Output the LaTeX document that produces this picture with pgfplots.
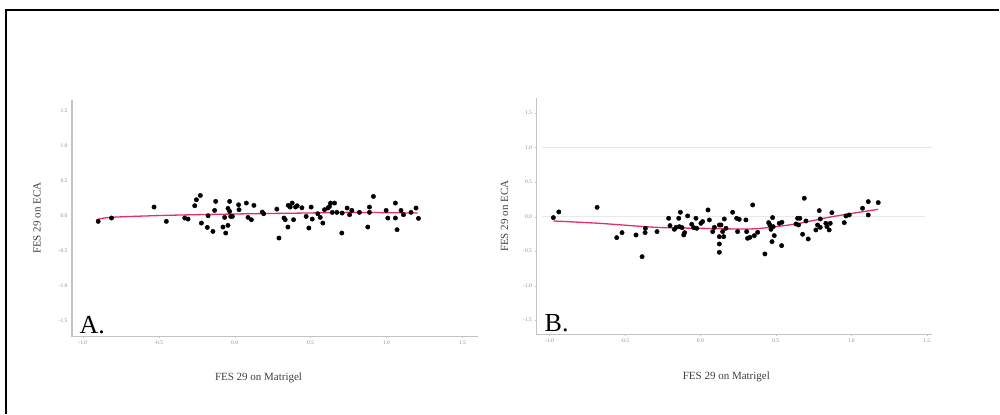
\documentclass[border=0pt]{standalone}
\usepackage{fontspec}
\setmainfont{Liberation Serif}
\usepackage{pgfplots}
\pgfplotsset{compat=1.18}
\definecolor{fitred}{RGB}{232,45,100}
\definecolor{axgray}{RGB}{195,195,195}
\definecolor{tickgray}{RGB}{140,140,140}
\definecolor{gridgray}{RGB}{232,232,232}
\pgfplotsset{panel/.style={
  scale only axis, axis lines=left, axis line style={axgray, line width=1.2pt, -},
  ytick={-1.5,-1,...,1.5},
  xtick={-1,-0.5,...,1.5},
  tick style={axgray}, major tick length=2pt,
  tick label style={font=\fontsize{5.5}{6}\selectfont, text=tickgray},
  /pgf/number format/.cd, fixed, fixed zerofill, precision=1, assume math mode=true, /pgfplots/.cd,
  label style={font=\fontsize{11}{13}\selectfont, text=black!75},
  xlabel={FES 29 on Matrigel}, ylabel={FES 29 on ECA},
  clip=false,
}}
\begin{document}
\begin{tikzpicture}
\path (0pt,0pt) rectangle (1000pt,414pt);
\draw[line width=2pt] (6pt,0pt) -- (6pt,404pt) -- (1000pt,404pt);
% Panel A
\begin{axis}[panel, at={(72pt,77pt)}, anchor=south west, width=406pt, height=237pt,
  xmin=-1.072, xmax=1.6, ymin=-1.73, ymax=1.657,
  xlabel style={at={(axis description cs:0.46,-0.173)}, anchor=center},
  ylabel style={at={(axis description cs:-0.086,0.5)}, anchor=center}]
\addplot[only marks, mark=*, mark size=2.2pt, black] coordinates {
(-0.899,-0.081) (-0.811,-0.033) (-0.531,0.124) (-0.450,-0.081) (-0.329,-0.033)
(-0.307,-0.048) (-0.263,0.143) (-0.252,0.229) (-0.226,0.290) (-0.219,-0.105)
(-0.180,-0.167) (-0.175,0.0) (-0.143,-0.224) (-0.125,0.205) (-0.132,0.076)
(-0.077,-0.162) (-0.066,-0.024) (-0.059,-0.248) (-0.044,0.105) (-0.044,-0.138)
(-0.033,0.205) (-0.033,0.062) (-0.026,-0.010) (-0.015,-0.010) (0.026,0.157)
(0.029,0.086) (0.077,0.181) (0.088,-0.024) (0.110,-0.057) (0.127,0.148)
(0.182,0.052) (0.191,0.029) (0.278,0.095) (0.292,-0.319) (0.325,-0.033)
(0.333,-0.057) (0.351,-0.162) (0.353,0.148) (0.366,0.124) (0.379,0.181)
(0.388,-0.057) (0.401,0.124) (0.412,0.143) (0.443,0.114) (0.471,-0.010)
(0.489,-0.176) (0.504,0.124) (0.511,-0.048) (0.548,0.029) (0.564,-0.024)
(0.581,-0.105) (0.592,0.086) (0.614,0.110) (0.625,0.133) (0.632,0.181)
(0.643,0.048) (0.658,0.181) (0.673,0.048) (0.706,-0.248) (0.708,0.038)
(0.741,0.110) (0.757,0.014) (0.772,0.076) (0.822,0.048) (0.877,-0.162)
(0.888,0.124) (0.888,0.048) (0.914,0.276) (0.998,0.076) (1.009,-0.033)
(1.059,0.181) (1.059,-0.033) (1.070,-0.200) (1.096,0.076) (1.112,0.014)
(1.162,0.048) (1.195,0.110) (1.211,-0.038)
};
\addplot[fitred, line width=1.3pt, smooth] coordinates {
(-0.910,-0.057) (-0.822,-0.024) (-0.537,0.0) (-0.274,0.014) (0.121,0.029)
(0.450,0.038) (0.778,0.048) (1.206,0.038)
};
\node[anchor=base west, font=\fontsize{26}{26}\selectfont] at (axis description cs:0.01,0.012) {A.};
\end{axis}
% Panel B
\begin{axis}[panel, at={(537pt,79pt)}, anchor=south west, width=396pt, height=237pt,
  xmin=-1.086, xmax=1.536, ymin=-1.71, ymax=1.72,
  xlabel style={at={(axis description cs:0.48,-0.18)}, anchor=center},
  ylabel style={at={(axis description cs:-0.081,0.5)}, anchor=center}]
\draw[gridgray, line width=1.3pt] (axis cs:-1.05,1) -- (axis cs:1.536,1);
\draw[gridgray, line width=1.3pt] (axis cs:-1.05,0) -- (axis cs:1.49,0);
\addplot[only marks, mark=*, mark size=2.2pt, black] coordinates {
(-0.974,-0.014) (-0.938,0.068) (-0.684,0.135) (-0.554,-0.304) (-0.519,-0.232)
(-0.426,-0.266) (-0.386,-0.580) (-0.366,-0.232) (-0.364,-0.169) (-0.287,-0.217)
(-0.210,-0.024) (-0.201,-0.130) (-0.172,-0.184) (-0.161,-0.155) (-0.143,-0.024)
(-0.139,-0.145) (-0.132,0.063) (-0.121,-0.159) (-0.110,-0.266) (-0.104,-0.232)
(-0.084,0.010) (-0.057,-0.111) (-0.044,-0.159) (-0.029,-0.024) (-0.024,-0.169)
(0.004,-0.097) (0.015,-0.072) (0.051,0.097) (0.060,-0.048) (0.082,-0.217)
(0.093,-0.155) (0.126,-0.121) (0.126,-0.290) (0.126,-0.396) (0.126,-0.517)
(0.137,-0.121) (0.148,-0.217) (0.155,-0.290) (0.159,-0.034) (0.170,-0.169)
(0.214,0.063) (0.241,-0.024) (0.247,-0.217) (0.258,-0.039) (0.302,-0.048)
(0.307,-0.217) (0.313,-0.314) (0.329,-0.300) (0.347,0.169) (0.358,-0.275)
(0.380,-0.227) (0.428,-0.541) (0.453,-0.087) (0.461,-0.121) (0.468,-0.184)
(0.475,-0.362) (0.479,-0.014) (0.483,-0.145) (0.490,-0.275) (0.523,-0.097)
(0.539,-0.420) (0.541,-0.082) (0.634,-0.106) (0.645,-0.024) (0.651,-0.121)
(0.660,-0.024) (0.678,-0.256) (0.689,0.266) (0.700,-0.063) (0.715,-0.324)
(0.766,-0.193) (0.777,-0.121) (0.788,0.087) (0.795,-0.034) (0.795,-0.155)
(0.832,-0.097) (0.839,-0.145) (0.854,-0.193) (0.861,-0.097) (0.872,0.058)
(0.954,-0.087) (0.965,0.010) (0.987,0.024) (1.075,0.121) (1.113,0.024)
(1.113,0.217) (1.179,0.203)
};
\addplot[fitred, line width=1.3pt, smooth] coordinates {
(-0.974,-0.063) (-0.669,-0.097) (-0.294,-0.155) (-0.007,-0.169) (0.325,-0.179)
(0.501,-0.145) (0.656,-0.097) (0.876,0.0) (1.179,0.106)
};
\node[anchor=base west, font=\fontsize{26}{26}\selectfont] at (axis description cs:0.012,0.012) {B.};
\end{axis}
\end{tikzpicture}
\end{document}
